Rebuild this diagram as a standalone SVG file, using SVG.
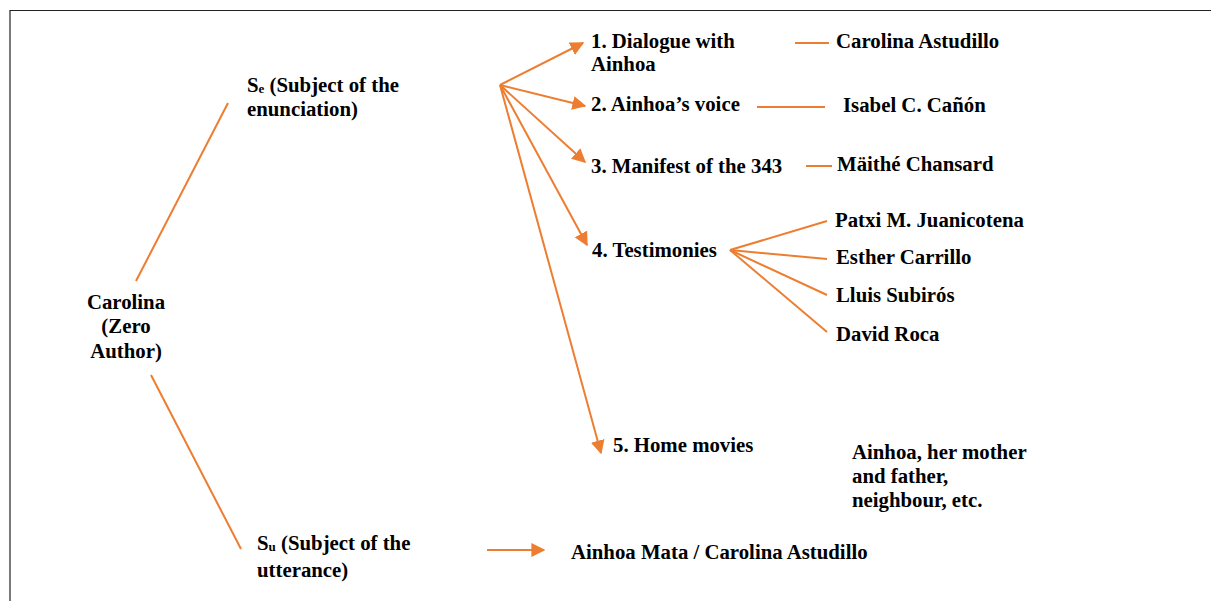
<svg xmlns="http://www.w3.org/2000/svg" width="1211" height="601" viewBox="0 0 1211 601">
<style>
text{font-family:"Liberation Serif","Times New Roman",serif;font-weight:bold;font-size:20.8px;fill:#000}
.c line{stroke:#ED7D31;stroke-width:2}
.sub{font-size:13px}
</style>
<defs>
<marker id="ah" viewBox="0 0 10 10" refX="9" refY="5" markerWidth="7" markerHeight="7" markerUnits="strokeWidth" orient="auto">
<path d="M0,0 L10,5 L0,10 z" fill="#ED7D31"/>
</marker>
</defs>
<rect width="1211" height="601" fill="#fff"/>
<path d="M10,601 V10.5 H1211" fill="none" stroke="#222" stroke-width="1.2"/>
<g class="c" id="connectors">
<line x1="136" y1="281" x2="228" y2="103"/>
<line x1="151" y1="375" x2="241" y2="549"/>
<line x1="500" y1="85" x2="583" y2="43" marker-end="url(#ah)"/>
<line x1="500" y1="85" x2="585" y2="106" marker-end="url(#ah)"/>
<line x1="500" y1="85" x2="585" y2="162" marker-end="url(#ah)"/>
<line x1="500" y1="85" x2="587" y2="245" marker-end="url(#ah)"/>
<line x1="500" y1="85" x2="601" y2="453" marker-end="url(#ah)"/>
<line x1="795" y1="43" x2="829" y2="43"/>
<line x1="757" y1="107" x2="825" y2="107"/>
<line x1="806" y1="166" x2="832" y2="166"/>
<line x1="730" y1="250" x2="827" y2="221"/>
<line x1="730" y1="250" x2="827" y2="259"/>
<line x1="730" y1="250" x2="827" y2="295"/>
<line x1="730" y1="250" x2="827" y2="332"/>
<line x1="487" y1="550" x2="544" y2="550" marker-end="url(#ah)"/>
</g>
<g id="zero"><text x="126" y="309" text-anchor="middle">Carolina</text><text x="126" y="333" text-anchor="middle">(Zero</text><text x="126" y="358" text-anchor="middle">Author)</text></g>
<g id="se"><text x="247" y="92">S<tspan class="sub" dy="1">e</tspan><tspan dy="-1"> (Subject of the</tspan></text><text x="247" y="116">enunciation)</text></g>
<g id="su"><text x="257" y="550">S<tspan class="sub" dy="1">u</tspan><tspan dy="-1"> (Subject of the</tspan></text><text x="257" y="577">utterance)</text></g>
<g id="n1"><text x="591" y="48">1. Dialogue with</text><text x="591" y="71">Ainhoa</text></g>
<g id="n2"><text x="591" y="111">2. Ainhoa’s voice</text></g>
<g id="n3"><text x="591" y="173">3. Manifest of the 343</text></g>
<g id="n4"><text x="592" y="257">4. Testimonies</text></g>
<g id="n5"><text x="613" y="452">5. Home movies</text></g>
<g id="p1"><text x="836" y="48">Carolina Astudillo</text></g>
<g id="p2"><text x="843" y="112">Isabel C. Cañón</text></g>
<g id="p3"><text x="837" y="171">Mäithé Chansard</text></g>
<g id="p4"><text x="835" y="227">Patxi M. Juanicotena</text></g>
<g id="p5"><text x="836" y="264">Esther Carrillo</text></g>
<g id="p6"><text x="836" y="302">Lluis Subirós</text></g>
<g id="p7"><text x="836" y="341">David Roca</text></g>
<g id="p8"><text x="852" y="459">Ainhoa, her mother</text><text x="852" y="483">and father,</text><text x="852" y="507">neighbour, etc.</text></g>
<g id="p9"><text x="571" y="559">Ainhoa Mata / Carolina Astudillo</text></g>
</svg>
